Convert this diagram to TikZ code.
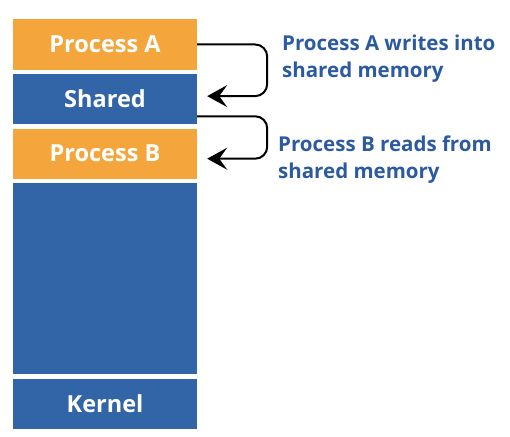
\documentclass[tikz,border=0pt]{standalone}
\usepackage{fontspec}
\setmainfont{Open Sans}
\usetikzlibrary{arrows.meta}
\usetikzlibrary{positioning}
\definecolor{procorange}{HTML}{F4A63D}
\definecolor{memblue}{HTML}{3265A8}
\definecolor{notetext}{HTML}{2C5AA0}

\begin{document}
\begin{tikzpicture}[x=1pt, y=-1pt, node distance=4.2pt,
    block/.style={rectangle, minimum width=184pt, minimum height=50pt, inner sep=0pt,
        text=white, font=\fontsize{23.5}{26}\selectfont\bfseries},
    proc/.style={block, fill=procorange},
    mem/.style={block, fill=memblue},
    flow/.style={draw=black, line width=2pt, rounded corners=12pt, -{Stealth[length=20pt, width=22pt, inset=8pt]}},
    note/.style={align=left, anchor=west, inner sep=0pt, text=notetext,
        font=\fontsize{20.5}{27}\selectfont\bfseries}]
    \useasboundingbox (0,0) rectangle (510,436);
    \node[proc] (procA) at (105,44.5) {Process A};
    \node[mem] (shared) [below=of procA] {Shared};
    \node[proc] (procB) [below=of shared] {Process B};
    \node[mem, minimum height=191pt] (free) [below=of procB] {};
    \node[mem] (kernel) [below=of free] {Kernel};
    \draw[flow] (procA.east) -- ++(70,0) |- ([xshift=10pt, yshift=3pt]shared.east);
    \draw[flow] ([yshift=8pt]shared.south east) -- ++(70,0) |- ([xshift=10pt, yshift=-5pt]procB.east);
    \node[note] (writenote) at (282,59) {Process A writes into\\shared memory};
    \node[note] (readnote) at (278,160) {Process B reads from\\shared memory};
\end{tikzpicture}
\end{document}
